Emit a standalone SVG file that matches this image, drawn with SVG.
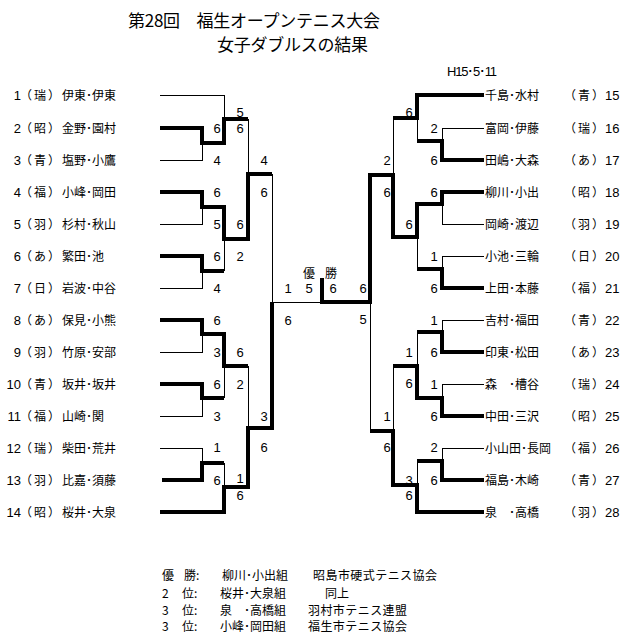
<svg xmlns="http://www.w3.org/2000/svg" width="632" height="642" viewBox="0 0 632 642">
<style>
.t{font-family:"Noto Sans CJK JP","Noto Sans CJK SC",sans-serif;font-size:12px;fill:#000}
.h{font-family:"Noto Sans CJK JP","Noto Sans CJK SC",sans-serif;font-size:17px;fill:#000}
.n{font-family:"Liberation Sans",Arial,sans-serif;font-size:13px;fill:#000}
.s{font-family:"Liberation Sans",Arial,sans-serif;font-size:13px;fill:#000;text-anchor:middle}
.e{text-anchor:end}
.thin{stroke:#000;stroke-width:1;fill:none}
.thick{stroke:#000;stroke-width:4;fill:none}
</style>
<rect width="632" height="642" fill="#fff"/>
<g id="title">
<text class="h" x="128" y="26.5" textLength="252">第28回　福生オープンテニス大会</text>
<text class="h" x="217" y="50.5" textLength="151">女子ダブルスの結果</text>
<text class="n" x="447" y="76" textLength="50">H15･5･11</text>
</g>
<g id="connectors" shape-rendering="crispEdges">
<g class="thin">
<path d="M160 95H224V119"/>
<path d="M248 119V174"/>
<path d="M202 143V160H160"/>
<path d="M202 207V224H160"/>
<path d="M224 239V271"/>
<path d="M202 271V288H160"/>
<path d="M272 174V302H322"/>
<path d="M202 334V352H160"/>
<path d="M224 366V398"/>
<path d="M202 398V416H160"/>
<path d="M248 366V428"/>
<path d="M160 448H202V463"/>
<path d="M224 463V487"/>
<path d="M393 118V175"/>
<path d="M484 128H442V141"/>
<path d="M417 118V141"/>
<path d="M442 204V224H484"/>
<path d="M484 256H442V269"/>
<path d="M417 237V269"/>
<path d="M370 302V431"/>
<path d="M484 320H442V332"/>
<path d="M417 332V366"/>
<path d="M484 384H442V398"/>
<path d="M393 366V431"/>
<path d="M484 448H442V461"/>
<path d="M417 461V485"/>
</g>
<g class="thick">
<path d="M160 128H202V143H224V119H248"/>
<path d="M160 192H202V207H224V239H248V174H272"/>
<path d="M160 256H202V271H224"/>
<path d="M160 320H202V334H224V366H248"/>
<path d="M160 384H202V398H224"/>
<path d="M162 480H202V463H224"/>
<path d="M160 512H224V487H248V428H272V302"/>
<path d="M484 95H417V118H393"/>
<path d="M484 160H442V141H417"/>
<path d="M484 192H442V204H417V237H393V175H370V302H322V278"/>
<path d="M484 288H442V269H417"/>
<path d="M484 352H442V332H417"/>
<path d="M484 416H442V398H417V366H393"/>
<path d="M484 480H442V461H417"/>
<path d="M484 512H417V485H393V431H370"/>
</g>
</g>
<g id="scores">
<text class="s" x="217" y="133">6</text>
<text class="s" x="217" y="165">4</text>
<text class="s" x="240" y="117">5</text>
<text class="s" x="240" y="133">6</text>
<text class="s" x="264" y="165">4</text>
<text class="s" x="264" y="197">6</text>
<text class="s" x="217" y="197">6</text>
<text class="s" x="217" y="229">5</text>
<text class="s" x="240" y="229">6</text>
<text class="s" x="217" y="261">6</text>
<text class="s" x="240" y="261">2</text>
<text class="s" x="217" y="293">4</text>
<text class="s" x="288" y="293">1</text>
<text class="s" x="288" y="325">6</text>
<text class="s" x="217" y="325">6</text>
<text class="s" x="217" y="357">3</text>
<text class="s" x="240" y="357">6</text>
<text class="s" x="217" y="389">6</text>
<text class="s" x="240" y="389">2</text>
<text class="s" x="217" y="421">3</text>
<text class="s" x="264" y="421">3</text>
<text class="s" x="217" y="452">1</text>
<text class="s" x="264" y="452">6</text>
<text class="s" x="217" y="485">6</text>
<text class="s" x="240" y="483">1</text>
<text class="s" x="240" y="500">6</text>
<text class="s" x="309" y="293">5</text>
<text class="s" x="333" y="293">6</text>
<text class="s" x="363" y="293">6</text>
<text class="s" x="363" y="324">5</text>
<text class="s" x="409" y="117">6</text>
<text class="s" x="434" y="133">2</text>
<text class="s" x="434" y="165">6</text>
<text class="s" x="387" y="165">2</text>
<text class="s" x="387" y="197">6</text>
<text class="s" x="434" y="197">6</text>
<text class="s" x="409" y="229">6</text>
<text class="s" x="434" y="261">1</text>
<text class="s" x="434" y="293">6</text>
<text class="s" x="434" y="325">1</text>
<text class="s" x="434" y="357">6</text>
<text class="s" x="409" y="357">1</text>
<text class="s" x="409" y="388">6</text>
<text class="s" x="434" y="389">1</text>
<text class="s" x="434" y="421">6</text>
<text class="s" x="387" y="421">1</text>
<text class="s" x="387" y="452">6</text>
<text class="s" x="434" y="452">2</text>
<text class="s" x="434" y="485">6</text>
<text class="s" x="409" y="485">3</text>
<text class="s" x="409" y="500">6</text>
<text class="t" x="303" y="278">優</text>
<text class="t" x="325" y="278">勝</text>
</g>
<g id="team1"><text class="n e" x="21" y="100">1</text><text class="t" x="20" y="100" textLength="40">（瑞）</text><text class="t" x="62" y="100">伊東･伊東</text></g>
<g id="team2"><text class="n e" x="21" y="133">2</text><text class="t" x="20" y="133" textLength="40">（昭）</text><text class="t" x="62" y="133">金野･園村</text></g>
<g id="team3"><text class="n e" x="21" y="165">3</text><text class="t" x="20" y="165" textLength="40">（青）</text><text class="t" x="62" y="165">塩野･小鷹</text></g>
<g id="team4"><text class="n e" x="21" y="197">4</text><text class="t" x="20" y="197" textLength="40">（福）</text><text class="t" x="62" y="197">小峰･岡田</text></g>
<g id="team5"><text class="n e" x="21" y="229">5</text><text class="t" x="20" y="229" textLength="40">（羽）</text><text class="t" x="62" y="229">杉村･秋山</text></g>
<g id="team6"><text class="n e" x="21" y="261">6</text><text class="t" x="20" y="261" textLength="40">（あ）</text><text class="t" x="62" y="261">繁田･池</text></g>
<g id="team7"><text class="n e" x="21" y="293">7</text><text class="t" x="20" y="293" textLength="40">（日）</text><text class="t" x="62" y="293">岩波･中谷</text></g>
<g id="team8"><text class="n e" x="21" y="325">8</text><text class="t" x="20" y="325" textLength="40">（あ）</text><text class="t" x="62" y="325">保見･小熊</text></g>
<g id="team9"><text class="n e" x="21" y="357">9</text><text class="t" x="20" y="357" textLength="40">（羽）</text><text class="t" x="62" y="357">竹原･安部</text></g>
<g id="team10"><text class="n e" x="21" y="389">10</text><text class="t" x="20" y="389" textLength="40">（青）</text><text class="t" x="62" y="389">坂井･坂井</text></g>
<g id="team11"><text class="n e" x="21" y="421">11</text><text class="t" x="20" y="421" textLength="40">（福）</text><text class="t" x="62" y="421">山崎･関</text></g>
<g id="team12"><text class="n e" x="21" y="453">12</text><text class="t" x="20" y="453" textLength="40">（瑞）</text><text class="t" x="62" y="453">柴田･荒井</text></g>
<g id="team13"><text class="n e" x="21" y="485">13</text><text class="t" x="20" y="485" textLength="40">（羽）</text><text class="t" x="62" y="485">比嘉･須藤</text></g>
<g id="team14"><text class="n e" x="21" y="517">14</text><text class="t" x="20" y="517" textLength="40">（昭）</text><text class="t" x="62" y="517">桜井･大泉</text></g>
<g id="team15"><text class="t" x="485" y="100">千島･水村</text><text class="t" x="564" y="100" textLength="40">（青）</text><text class="n" x="605" y="100">15</text></g>
<g id="team16"><text class="t" x="485" y="133">富岡･伊藤</text><text class="t" x="564" y="133" textLength="40">（瑞）</text><text class="n" x="605" y="133">16</text></g>
<g id="team17"><text class="t" x="485" y="165">田嶋･大森</text><text class="t" x="564" y="165" textLength="40">（あ）</text><text class="n" x="605" y="165">17</text></g>
<g id="team18"><text class="t" x="485" y="197">柳川･小出</text><text class="t" x="564" y="197" textLength="40">（昭）</text><text class="n" x="605" y="197">18</text></g>
<g id="team19"><text class="t" x="485" y="229">岡崎･渡辺</text><text class="t" x="564" y="229" textLength="40">（羽）</text><text class="n" x="605" y="229">19</text></g>
<g id="team20"><text class="t" x="485" y="261">小池･三輪</text><text class="t" x="564" y="261" textLength="40">（日）</text><text class="n" x="605" y="261">20</text></g>
<g id="team21"><text class="t" x="485" y="293">上田･本藤</text><text class="t" x="564" y="293" textLength="40">（福）</text><text class="n" x="605" y="293">21</text></g>
<g id="team22"><text class="t" x="485" y="325">吉村･福田</text><text class="t" x="564" y="325" textLength="40">（青）</text><text class="n" x="605" y="325">22</text></g>
<g id="team23"><text class="t" x="485" y="357">印東･松田</text><text class="t" x="564" y="357" textLength="40">（あ）</text><text class="n" x="605" y="357">23</text></g>
<g id="team24"><text class="t" x="485" y="389">森　･槽谷</text><text class="t" x="564" y="389" textLength="40">（瑞）</text><text class="n" x="605" y="389">24</text></g>
<g id="team25"><text class="t" x="485" y="421">中田･三沢</text><text class="t" x="564" y="421" textLength="40">（昭）</text><text class="n" x="605" y="421">25</text></g>
<g id="team26"><text class="t" x="485" y="453">小山田･長岡</text><text class="t" x="564" y="453" textLength="40">（福）</text><text class="n" x="605" y="453">26</text></g>
<g id="team27"><text class="t" x="485" y="485">福島･木崎</text><text class="t" x="564" y="485" textLength="40">（青）</text><text class="n" x="605" y="485">27</text></g>
<g id="team28"><text class="t" x="485" y="517">泉　･高橋</text><text class="t" x="564" y="517" textLength="40">（羽）</text><text class="n" x="605" y="517">28</text></g>
<g id="results">
<text class="t" x="162" y="580">優</text><text class="t" x="184" y="580">勝:</text><text class="t" x="222" y="580">柳川･小出組</text><text class="t" x="313" y="580" textLength="124">昭島市硬式テニス協会</text>
<text class="t" x="162" y="598">2</text><text class="t" x="182" y="598">位:</text><text class="t" x="220" y="598">桜井･大泉組</text><text class="t" x="325" y="598">同上</text>
<text class="t" x="162" y="615">3</text><text class="t" x="182" y="615">位:</text><text class="t" x="220" y="615">泉　･高橋組</text><text class="t" x="308" y="615" textLength="99">羽村市テニス連盟</text>
<text class="t" x="162" y="631">3</text><text class="t" x="182" y="631">位:</text><text class="t" x="220" y="631">小峰･岡田組</text><text class="t" x="308" y="631" textLength="99">福生市テニス協会</text>
</g>
</svg>
